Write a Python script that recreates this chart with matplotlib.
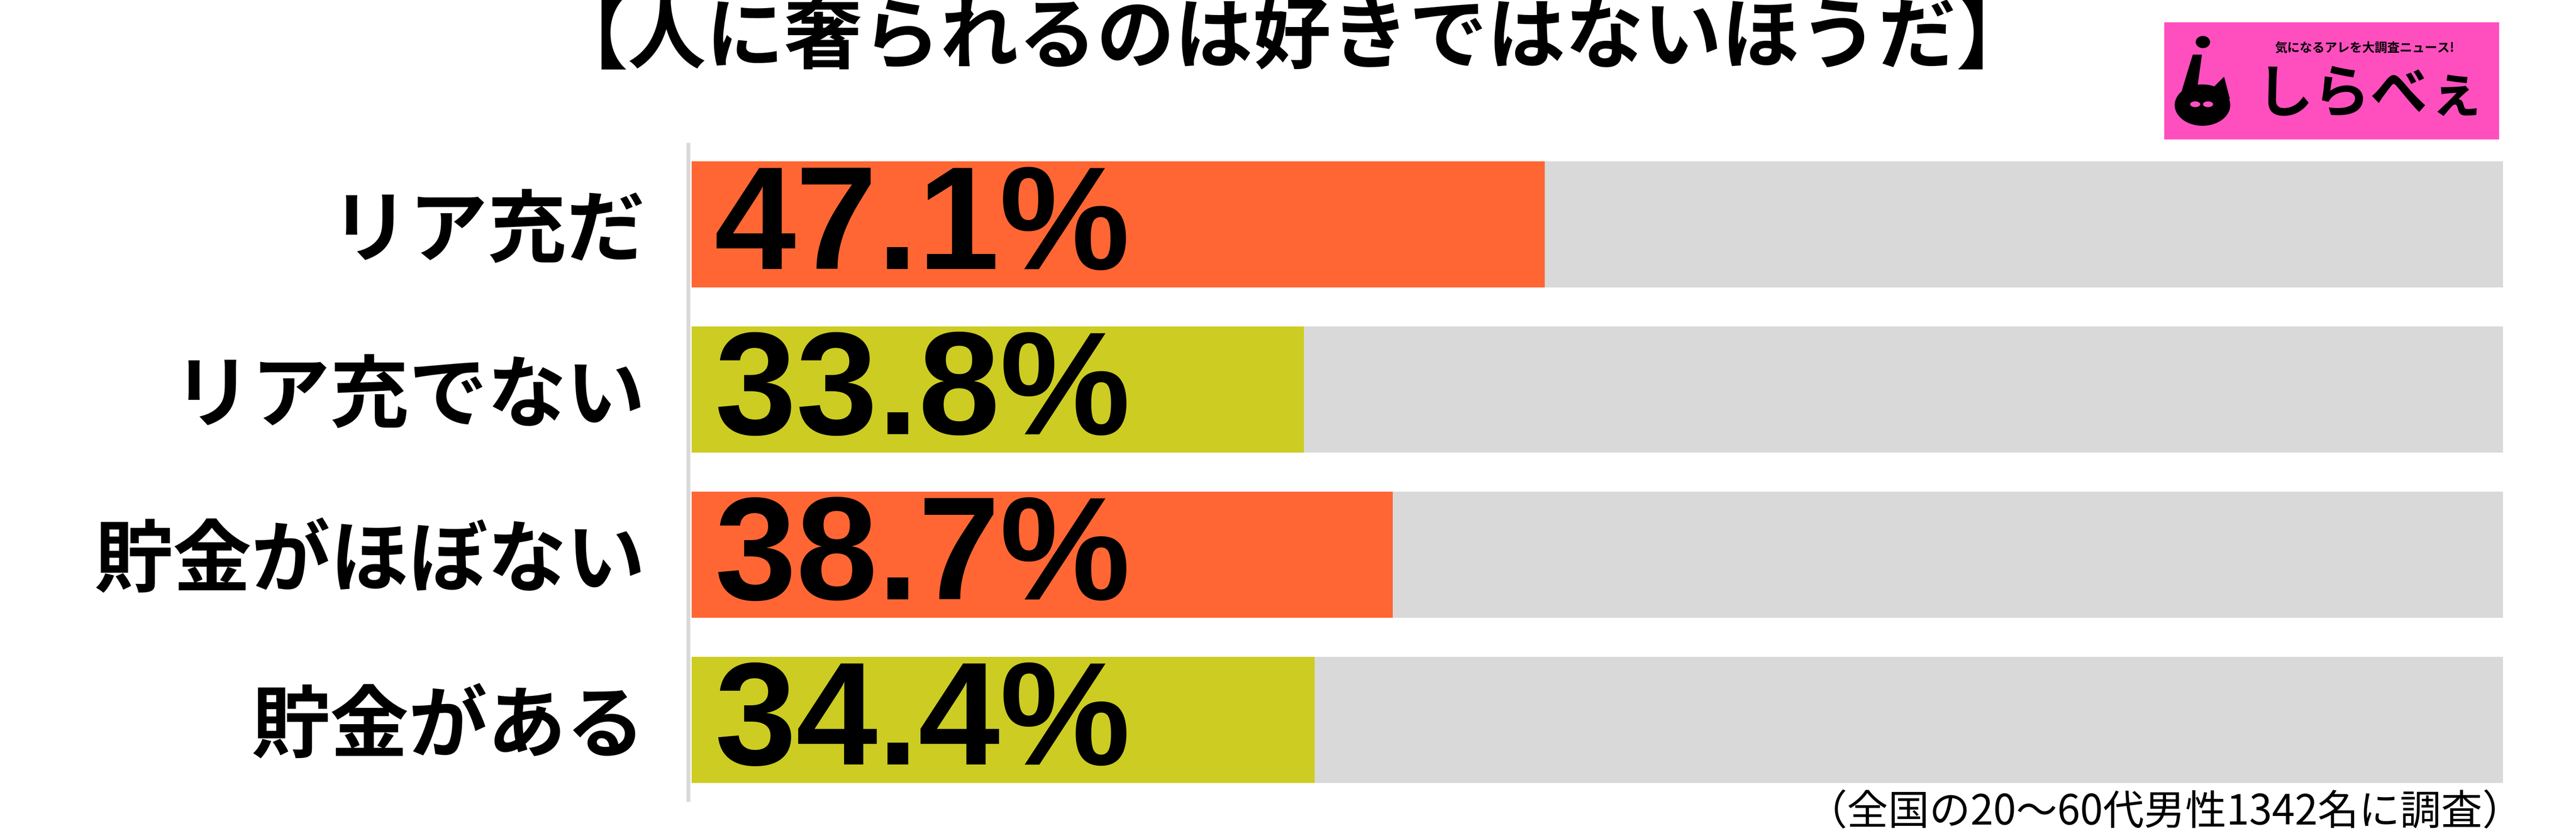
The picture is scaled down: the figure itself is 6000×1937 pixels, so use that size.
import matplotlib
matplotlib.use("Agg")
import matplotlib.pyplot as plt
from matplotlib.patches import Rectangle, Ellipse, Polygon

plt.rcParams['font.family'] = ['Noto Sans CJK JP', 'DejaVu Sans']

title = "【人に奢られるのは好きではないほうだ】"
categories = ["リア充だ", "リア充でない", "貯金がほぼない", "貯金がある"]
values = [47.1, 33.8, 38.7, 34.4]
bar_colors = ["#FF6633", "#CCCC22", "#FF6633", "#CCCC22"]
note = "（全国の20～60代男性1342名に調査）"
logo_main = "しらべぇ"
logo_tag = "気になるアレを大調査ニュース!"

W, H = 6000, 1937
fig = plt.figure(figsize=(W / 100, H / 100), dpi=100)

def fx(px):
    return px / W

def fy(py):
    return 1 - py / H

# axes box in pixels: x 1611..5830, y 337..1864
ax = fig.add_axes([fx(1611), fy(1864), fx(5830) - fx(1611), fy(337) - fy(1864)])
ypos = list(range(len(categories)))
ax.barh(ypos, [100] * len(values), height=0.766, color="#D9D9D9")
ax.barh(ypos, values, height=0.766, color=bar_colors)
ax.set_xlim(0, 100)
ax.set_ylim(3.483, -0.483)
for s in ax.spines.values():
    s.set_visible(False)
ax.axvline(-0.19, color="#D9D9D9", lw=6.5, clip_on=False)
ax.set_xticks([])
ax.set_yticks(ypos, categories)
ax.tick_params(axis="y", length=0, pad=78, labelsize=132)
for lab in ax.get_yticklabels():
    lab.set_fontweight("bold")

for i, v in enumerate(values):
    ax.text(1.25, i + 0.04, f"{v}%", va="center", ha="left", fontsize=246,
            fontweight="bold", family=["Liberation Sans", "DejaVu Sans"], color="black")

fig.text(fx(3010), fy(92), title, ha="center", va="center", fontsize=131, fontweight="bold")
fig.text(fx(5878), fy(1894), note, ha="right", va="center", fontsize=69)

# logo
fig.add_artist(Rectangle((fx(5041), fy(325)), fx(5821) - fx(5041), fy(52) - fy(325),
                         transform=fig.transFigure, color="#FF4FBF", lw=0))
fig.add_artist(Ellipse((fx(5131), fy(98)), fx(32), 27 / H, transform=fig.transFigure, color="black"))
fig.add_artist(Ellipse((fx(5130), fy(245)), fx(128), 95 / H, transform=fig.transFigure, color="black"))
fig.add_artist(Polygon([(fx(5108), fy(128)), (fx(5128), fy(128)), (fx(5118), fy(200)),
                        (fx(5080), fy(220)), (fx(5095), fy(170))],
                       transform=fig.transFigure, color="black"))
fig.add_artist(Polygon([(fx(5155), fy(205)), (fx(5180), fy(180)), (fx(5193), fy(230)), (fx(5170), fy(240))],
                       transform=fig.transFigure, color="black"))
for ex in (5113, 5143):
    fig.add_artist(Ellipse((fx(ex), fy(243)), fx(22), 12 / H, transform=fig.transFigure, color="#FF4FBF"))
fig.text(fx(5298), fy(113), logo_tag, ha="left", va="center", fontsize=21, fontweight="bold")
fig.text(fx(5255), fy(222), logo_main, ha="left", va="center", fontsize=96, fontweight="bold")

fig.savefig("out.png", dpi=100, facecolor="white")
